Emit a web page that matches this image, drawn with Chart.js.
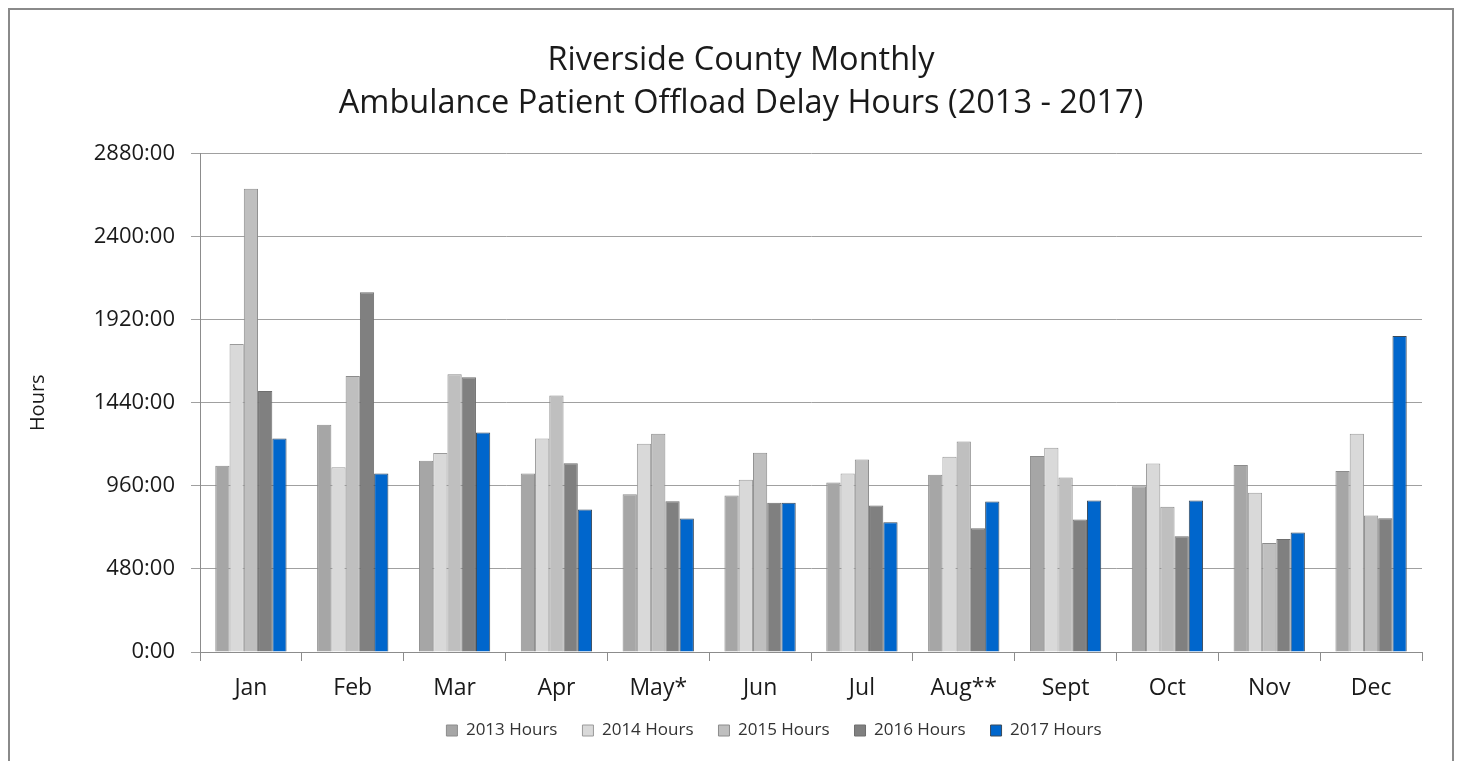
<!DOCTYPE html>
<html>
<head>
<meta charset="utf-8">
<script src="https://cdn.jsdelivr.net/npm/chart.js@4"></script>
<style>
  html, body { margin: 0; padding: 0; background: #fff; }
  #wrap { position: relative; width: 1461px; height: 761px; }
</style>
</head>
<body>
<div id="wrap"><canvas id="myChart"></canvas></div>
<script>
const months = ["Jan", "Feb", "Mar", "Apr", "May*", "Jun", "Jul", "Aug**", "Sept", "Oct", "Nov", "Dec"];
const hours2013 = [1076, 1313, 1105, 1031, 912, 904, 979, 1024, 1133, 958, 1081, 1045];
const hours2014 = [1779, 1068, 1149, 1234, 1203, 995, 1031, 1128, 1180, 1089, 920, 1261];
const hours2015 = [2676, 1594, 1604, 1482, 1261, 1151, 1112, 1216, 1008, 839, 630, 788];
const hours2016 = [1508, 2078, 1588, 1091, 871, 862, 846, 715, 765, 669, 653, 773];
const hours2017 = [1234, 1031, 1268, 823, 771, 862, 750, 869, 875, 875, 690, 1826];
const yTicks = [0, 480, 960, 1440, 1920, 2400, 2880];

const font = "'Open Sans', 'Noto Sans', sans-serif";

const framePlugin = {
  id: "frame",
  beforeDraw(chart) {
    const c = chart.ctx;
    c.save();
    c.fillStyle = "#fff";
    c.fillRect(0, 0, chart.width, chart.height);
    c.strokeStyle = "#8a8a8a";
    c.lineWidth = 2;
    c.strokeRect(9, 9, 1444, 770);
    c.restore();
  },
  // title and legend sit a bit right of centre in the original
  afterLayout(chart) {
    chart.legend.left += 50;
    chart.legend.right += 50;
    chart.legend.top -= 9;
    chart.legend.bottom -= 9;
    chart.titleBlock.left += 17;
    chart.titleBlock.right += 17;
  }
};

const mkSet = (label, data, bg, border) => ({
  label: label,
  data: data,
  backgroundColor: bg,
  borderColor: border,
  borderWidth: 1,
  categoryPercentage: 0.7,
  barPercentage: 1.0
});

const ctx = document.getElementById("myChart");
new Chart(ctx, {
  type: "bar",
  data: {
    labels: months,
    datasets: [
      mkSet("2013 Hours", hours2013, "#a6a6a6", "#8c8c8c"),
      mkSet("2014 Hours", hours2014, "#d9d9d9", "#9a9a9a"),
      mkSet("2015 Hours", hours2015, "#bfbfbf", "#8c8c8c"),
      mkSet("2016 Hours", hours2016, "#808080", "#6e6e6e"),
      mkSet("2017 Hours", hours2017, "#0066cc", "#3a4a5a")
    ]
  },
  options: {
    responsive: true,
    maintainAspectRatio: false,
    animation: false,
    layout: { padding: { left: 26, right: 39, top: 40, bottom: 3 } },
    plugins: {
      title: {
        display: true,
        text: ["Riverside County Monthly", "Ambulance Patient Offload Delay Hours (2013 - 2017)"],
        color: "#1a1a1a",
        font: { family: font, size: 32.5, weight: "normal", lineHeight: 1.3 },
        padding: { top: 0, bottom: 29 }
      },
      legend: {
        position: "bottom",
        labels: {
          color: "#333",
          font: { family: font, size: 17 },
          boxWidth: 11,
          boxHeight: 11,
          padding: 25
        }
      },
      tooltip: { enabled: false }
    },
    scales: {
      x: {
        grid: {
          drawOnChartArea: false,
          drawTicks: true,
          tickLength: 9,
          color: "#8c8c8c"
        },
        border: { color: "#8c8c8c", width: 1 },
        ticks: {
          color: "#1a1a1a",
          font: { family: font, size: 23 },
          padding: 14
        },
        afterFit(scale) { scale.height = 54; }
      },
      y: {
        min: 0,
        max: 2880,
        afterBuildTicks(scale) {
          scale.ticks = yTicks.map(v => ({ value: v }));
        },
        grid: {
          color: "#a0a0a0",
          tickLength: 9
        },
        border: { color: "#8c8c8c", width: 1 },
        ticks: {
          color: "#1a1a1a",
          font: { family: font, size: 22 },
          padding: 16,
          callback: v => Math.round(v) + ":00"
        },
        title: {
          display: true,
          text: "Hours",
          color: "#1a1a1a",
          font: { family: font, size: 20 },
          padding: { top: 0, bottom: 0 }
        },
        afterFit(scale) { scale.width = 174; }
      }
    }
  },
  plugins: [framePlugin]
});
</script>
</body>
</html>
